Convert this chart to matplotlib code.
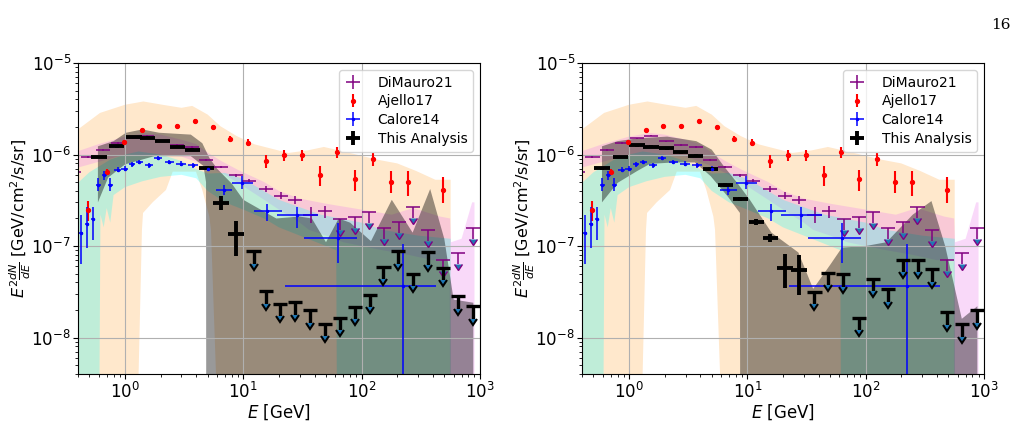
import numpy as np
import matplotlib
matplotlib.use("Agg")
import matplotlib.pyplot as plt

# ---------------- values ----------------
# DiMauro21 (detections, then upper limits)
dm_E = [0.37, 0.49, 0.655, 0.875, 1.16, 1.54, 2.07, 2.75, 3.66, 4.87, 6.48, 8.7,
        11.2, 15.5, 20.8, 27.5, 37.0, 49.3]
dm_F = [6.4e-7, 9.4e-7, 1.13e-6, 1.34e-6, 1.50e-6, 1.61e-6, 1.39e-6, 1.26e-6, 1.20e-6,
        8.8e-7, 7.3e-7, 5.9e-7, 5.2e-7, 4.2e-7, 3.56e-7, 3.17e-7, 2.2e-7, 2.44e-7]
dm_lo = [6.25e-7, 9.2e-7, 1.10e-6, 1.31e-6, 1.47e-6, 1.58e-6, 1.36e-6, 1.23e-6, 1.17e-6,
         8.6e-7, 7.1e-7, 5.7e-7, 4.95e-7, 3.9e-7, 3.3e-7, 2.85e-7, 1.79e-7, 2.04e-7]
dm_hi = [6.55e-7, 9.6e-7, 1.16e-6, 1.37e-6, 1.53e-6, 1.64e-6, 1.42e-6, 1.29e-6, 1.23e-6,
         9.0e-7, 7.5e-7, 6.1e-7, 5.45e-7, 4.55e-7, 3.85e-7, 3.5e-7, 2.7e-7, 2.77e-7]
dm_ul_E = [65.6, 88.0, 115.6, 155, 208, 274, 364, 488, 653, 870]
dm_ul = [1.98e-7, 2.08e-7, 2.34e-7, 1.57e-7, 1.84e-7, 2.65e-7, 1.48e-7, 7.1e-8, 8.3e-8, 1.58e-7]

# Ajello17
aj_E = [0.49, 0.70, 0.975, 1.39, 1.95, 2.77, 3.88, 5.5, 7.77, 11.0, 15.6, 22.1, 31.1,
        44.5, 61.5, 88, 124, 176, 248, 490]
aj_F = [2.5e-7, 6.4e-7, 1.38e-6, 1.84e-6, 2.04e-6, 2.07e-6, 2.31e-6, 2.0e-6, 1.48e-6,
        1.34e-6, 8.6e-7, 9.8e-7, 9.8e-7, 6.0e-7, 1.06e-6, 5.4e-7, 9.0e-7, 5.07e-7, 5.07e-7, 4.1e-7]
aj_lo = [1.9e-7, 5.9e-7, 1.32e-6, 1.76e-6, 1.95e-6, 1.98e-6, 2.2e-6, 1.9e-6, 1.36e-6,
         1.23e-6, 7.15e-7, 8.45e-7, 8.6e-7, 4.58e-7, 9.2e-7, 3.97e-7, 7.58e-7, 3.81e-7, 3.5e-7, 2.96e-7]
aj_hi = [3.1e-7, 6.9e-7, 1.44e-6, 1.92e-6, 2.13e-6, 2.16e-6, 2.42e-6, 2.1e-6, 1.6e-6,
         1.46e-6, 1.0e-6, 1.13e-6, 1.13e-6, 7.45e-7, 1.21e-6, 6.86e-7, 1.04e-6, 6.57e-7, 6.68e-7, 5.7e-7]

# Calore14
cal_E = [0.425, 0.477, 0.533, 0.595, 0.668, 0.751, 0.868, 0.99, 1.15, 1.32, 1.59, 1.89,
         2.37, 2.97, 3.73, 5.0, 6.9, 9.8, 15.8, 28.6, 62.8, 222]
cal_F = [1.39e-7, 1.76e-7, 1.98e-7, 4.7e-7, 5.9e-7, 4.7e-7, 6.86e-7, 6.97e-7, 7.8e-7,
         8.3e-7, 7.6e-7, 9.2e-7, 8.3e-7, 7.9e-7, 7.6e-7, 7.0e-7, 4.1e-7, 4.9e-7, 2.4e-7,
         2.17e-7, 1.23e-7, 3.64e-8]
cal_lo = [6.3e-8, 9.6e-8, 1.15e-7, 4.0e-7, 5.3e-7, 4.0e-7, 6.45e-7, 6.55e-7, 7.35e-7,
          7.8e-7, 7.15e-7, 8.65e-7, 7.8e-7, 7.45e-7, 7.15e-7, 6.6e-7, 3.65e-7, 4.15e-7,
          1.87e-7, 1.58e-7, 6.5e-8, 1e-12]
cal_hi = [2.2e-7, 2.7e-7, 2.7e-7, 5.5e-7, 6.6e-7, 5.5e-7, 7.3e-7, 7.4e-7, 8.3e-7,
          8.8e-7, 8.05e-7, 9.75e-7, 8.8e-7, 8.4e-7, 8.05e-7, 7.4e-7, 4.6e-7, 5.8e-7,
          2.9e-7, 2.68e-7, 1.8e-7, 1.06e-7]
cal_xlo = [0.411, 0.462, 0.516, 0.567, 0.637, 0.716, 0.813, 0.93, 1.08, 1.24, 1.48, 1.75,
           2.18, 2.70, 3.40, 4.55, 5.9, 8.0, 12.2, 19.1, 32.8, 22.5]
cal_xhi = [0.439, 0.492, 0.550, 0.624, 0.700, 0.787, 0.927, 1.055, 1.225, 1.41, 1.71, 2.04,
           2.58, 3.27, 4.10, 5.48, 8.1, 12.0, 21.1, 43.1, 91.9, 425]

# This Analysis, left panel
tal_E = [0.603, 0.85, 1.19, 1.55, 2.07, 2.78, 3.70, 4.90, 6.5, 8.67]
tal_F = [9.4e-7, 1.23e-6, 1.55e-6, 1.53e-6, 1.40e-6, 1.21e-6, 1.13e-6, 7.1e-7, 2.96e-7, 1.34e-7]
tal_lo = [9.1e-7, 1.19e-6, 1.50e-6, 1.48e-6, 1.36e-6, 1.17e-6, 1.09e-6, 6.8e-7, 2.5e-7, 7.8e-8]
tal_hi = [9.7e-7, 1.27e-6, 1.60e-6, 1.58e-6, 1.44e-6, 1.25e-6, 1.17e-6, 7.4e-7, 3.5e-7, 1.87e-7]
tal_ul_E = [12.2, 15.5, 20.5, 27.4, 36.6, 49, 65.6, 88, 118, 153, 204, 274, 366, 490, 656, 876]
tal_ul = [8.8e-8, 3.2e-8, 2.35e-8, 2.44e-8, 1.99e-8, 1.42e-8, 1.64e-8, 2.16e-8, 2.95e-8,
          5.9e-8, 8.8e-8, 5.0e-8, 8.6e-8, 5.8e-8, 2.83e-8, 2.2e-8]

# This Analysis, right panel
tar_E = [0.59, 0.845, 1.17, 1.53, 2.08, 2.73, 3.66, 4.87, 6.5, 8.7, 11.9, 15.6, 20.8, 27.4]
tar_F = [7.1e-7, 9.4e-7, 1.26e-6, 1.22e-6, 1.17e-6, 1.06e-6, 9.75e-7, 6.97e-7, 4.66e-7,
         3.27e-7, 1.82e-7, 1.23e-7, 5.8e-8, 5.45e-8]
tar_lo = [6.85e-7, 9.1e-7, 1.22e-6, 1.18e-6, 1.13e-6, 1.02e-6, 9.4e-7, 6.7e-7, 4.45e-7,
          3.1e-7, 1.68e-7, 1.10e-7, 3.5e-8, 2.9e-8]
tar_hi = [7.35e-7, 9.7e-7, 1.30e-6, 1.26e-6, 1.21e-6, 1.10e-6, 1.01e-6, 7.25e-7, 4.9e-7,
          3.45e-7, 1.97e-7, 1.36e-7, 8.1e-8, 7.9e-8]
tar_ul_E = [36.9, 48.4, 64.4, 87.5, 116, 155, 208, 275, 364, 488, 653, 875]
tar_ul = [3.16e-8, 5.1e-8, 4.9e-8, 1.64e-8, 4.4e-8, 3.35e-8, 7.1e-8, 7.1e-8, 5.6e-8,
          1.89e-8, 1.39e-8, 1.99e-8]

# bands: (upper edge) and (lower edge), each with its own energies
ajb_hi_E = [0.4, 0.615, 1.0, 1.43, 2.07, 3.0, 3.7, 5.0, 6.4, 8.8, 12.5, 24, 35, 48, 75,
            135, 200, 290, 420, 566]
ajb_hi = [1.88e-6, 2.85e-6, 3.5e-6, 3.8e-6, 3.5e-6, 3.24e-6, 3.4e-6, 2.73e-6, 2.04e-6,
          1.59e-6, 1.29e-6, 1.04e-6, 1.11e-6, 1.21e-6, 1.06e-6, 8.8e-7, 8.0e-7, 6.6e-7,
          5.3e-7, 5.3e-7]
ajb_lo_E = [0.4, 1.27, 1.39, 1.42, 1.71, 2.22, 2.53, 3.98, 4.5, 5.16, 5.33, 6.1, 566]
ajb_lo = [1e-9, 1e-9, 1.5e-7, 2.3e-7, 3.0e-7, 4.1e-7, 6.5e-7, 6.5e-7, 4.1e-7, 2.1e-7,
          1.5e-7, 1e-9, 1e-9]

calb_hi_E = [0.4, 0.5, 0.75, 1.0, 1.3, 2.0, 3.0, 3.7, 5.0, 7.0, 10, 20, 45, 100, 150, 300, 566]
calb_hi = [4.9e-7, 6.4e-7, 8.8e-7, 1.0e-6, 1.08e-6, 1.0e-6, 8.5e-7, 7.2e-7, 6.2e-7, 6.3e-7,
           5.4e-7, 3.2e-7, 2.2e-7, 1.8e-7, 1.5e-7, 1.3e-7, 1.2e-7]
calb_lo_E = [0.4, 0.605, 0.62, 0.66, 0.7, 0.75, 0.8, 1.0, 1.4, 2.0, 3.0, 4.0, 5.0, 7.0,
             10, 15, 20, 30, 50, 61, 62, 566]
calb_lo = [1e-9, 1e-9, 2.2e-7, 1.6e-7, 2.6e-7, 1.8e-7, 3.6e-7, 4.4e-7, 5.1e-7, 5.7e-7,
           6.0e-7, 5.5e-7, 4.0e-7, 3.0e-7, 2.5e-7, 2.0e-7, 1.6e-7, 1.3e-7, 1.0e-7, 9e-8,
           1e-9, 1e-9]

dmb_hi_E = [0.37, 0.6, 1.0, 1.5, 2.0, 3.0, 4.0, 5.0, 6.5, 9.0, 15, 20, 30, 50, 100, 180,
            272, 460, 560, 570, 700, 860, 900]
dmb_hi = [1.05e-6, 1.3e-6, 1.57e-6, 1.72e-6, 1.65e-6, 1.45e-6, 1.3e-6, 1.05e-6, 8.5e-7,
          6.8e-7, 5.0e-7, 4.0e-7, 3.3e-7, 2.9e-7, 2.5e-7, 2.2e-7, 2.6e-7, 2.1e-7, 2.0e-7,
          1.1e-7, 1.2e-7, 3.0e-7, 3.0e-7]
dmb_lo_E = [0.37, 1.0, 3.0, 5.0, 7.0, 10, 15, 20, 30, 36, 50, 70, 100, 150, 250,
            400, 555, 560, 900]
dmb_lo = [7e-7, 1.0e-6, 9.5e-7, 7.5e-7, 6e-7, 4.5e-7, 3.2e-7, 2.5e-7, 1.8e-7, 1.5e-7,
          1.3e-7, 1.1e-7, 1e-7, 9e-8, 8e-8, 7e-8, 7e-8, 1e-9, 1e-9]

tal_b_hi_E = [0.59, 0.8, 1.02, 1.4, 1.94, 3.6, 4.5, 5.16, 6.0, 8.0, 10, 14, 19, 30, 38,
              50, 64, 80, 120, 180, 270, 380, 500, 600, 880]
tal_b_hi = [1.23e-6, 1.4e-6, 1.73e-6, 1.88e-6, 1.73e-6, 1.65e-6, 1.33e-6, 9.2e-7, 7.0e-7,
            4.8e-7, 3.2e-7, 2.5e-7, 2.0e-7, 2.1e-7, 2.0e-7, 1.1e-7, 2.0e-7, 1.8e-7,
            1.13e-7, 3.2e-7, 1.4e-7, 4.2e-7, 1.2e-7, 2.6e-8, 2.4e-8]
tal_b_lo_E = [0.59, 0.72, 1.0, 1.77, 3.6, 4.6, 4.84, 4.86, 880]
tal_b_lo = [3.0e-7, 5.6e-7, 7.8e-7, 9.6e-7, 9.6e-7, 7.5e-7, 5.0e-7, 1e-9, 1e-9]

tar_b_hi_E = [0.59, 0.8, 1.17, 2.1, 3.7, 5.0, 6.3, 8.2, 10.5, 16, 27, 36, 50, 63, 100,
              150, 250, 360, 470, 650, 880]
tar_b_hi = [1.23e-6, 1.4e-6, 1.5e-6, 1.57e-6, 1.4e-6, 1.13e-6, 7.5e-7, 4.9e-7, 3.2e-7,
            1.4e-7, 8.5e-8, 3.4e-8, 6.2e-8, 9.6e-8, 1.0e-7, 1.1e-7, 2.2e-7, 3.1e-7, 1.0e-7,
            1.6e-8, 2.2e-8]
tar_b_lo_E = [0.59, 0.8, 1.17, 1.5, 2.4, 3.6, 4.9, 6.8, 8.65, 8.7, 880]
tar_b_lo = [3.0e-7, 4.9e-7, 6.6e-7, 7.9e-7, 8.2e-7, 8.2e-7, 5.8e-7, 3.5e-7, 2.3e-7, 1e-9, 1e-9]


def band(ax, hi_E, hi, lo_E, lo, color, alpha):
    xs = list(hi_E) + list(lo_E)[::-1]
    ys = list(hi) + list(lo)[::-1]
    ax.fill(xs, ys, color=color, alpha=alpha, lw=0)


def xerr_dex(E, d):
    E = np.asarray(E)
    return [E - E * 10**(-d), E * 10**d - E]


def yerr_bounds(F, lo, hi):
    F = np.asarray(F)
    return [F - np.asarray(lo), np.asarray(hi) - F]


def panel(ax, ta_E, ta_F, ta_lo, ta_hi, ta_ul_E, ta_ul, b_hi_E, b_hi, b_lo_E, b_lo):
    band(ax, ajb_hi_E, ajb_hi, ajb_lo_E, ajb_lo, "darkorange", 0.2)
    band(ax, dmb_hi_E, dmb_hi, dmb_lo_E, dmb_lo, "violet", 0.3)
    band(ax, calb_hi_E, calb_hi, calb_lo_E, calb_lo, "cyan", 0.25)
    band(ax, b_hi_E, b_hi, b_lo_E, b_lo, "black", 0.4)

    # DiMauro21
    ax.errorbar(dm_E, dm_F, xerr=xerr_dex(dm_E, 0.06), yerr=yerr_bounds(dm_F, dm_lo, dm_hi),
                fmt="none", ecolor="purple", elinewidth=1.1, label="DiMauro21")
    ax.errorbar(dm_ul_E, dm_ul, xerr=xerr_dex(dm_ul_E, 0.06), yerr=0.24 * np.array(dm_ul),
                uplims=True, fmt="none", ecolor="purple", elinewidth=1.1, markersize=3.5)
    # Ajello17
    ax.errorbar(aj_E, aj_F, yerr=yerr_bounds(aj_F, aj_lo, aj_hi), fmt="o", color="red",
                ms=2.8, elinewidth=1.5, label="Ajello17")
    # Calore14
    cal_xerr = [np.array(cal_E) - np.array(cal_xlo), np.array(cal_xhi) - np.array(cal_E)]
    ax.errorbar(cal_E, cal_F, xerr=cal_xerr, yerr=yerr_bounds(cal_F, cal_lo, cal_hi),
                fmt=".", color="blue", ms=3, elinewidth=1.1, label="Calore14")
    # This Analysis
    ax.errorbar(ta_E, ta_F, xerr=xerr_dex(ta_E, 0.065), yerr=yerr_bounds(ta_F, ta_lo, ta_hi),
                fmt="none", ecolor="black", elinewidth=2.8, label="This Analysis")
    ax.errorbar(ta_ul_E, ta_ul, xerr=xerr_dex(ta_ul_E, 0.06), yerr=0.27 * np.array(ta_ul),
                uplims=True, fmt="none", ecolor="black", elinewidth=2.4, markersize=4.5,
                markeredgewidth=1.5)

    ax.set_xscale("log")
    ax.set_yscale("log")
    ax.set_xlim(0.4, 1000)
    ax.set_ylim(4e-9, 1e-5)
    ax.grid(True, which="major")
    ax.tick_params(which="major", labelsize=12)
    ax.tick_params(axis="y", pad=1.5)
    ax.tick_params(axis="x", pad=2.5)
    ax.set_xlabel(r"$E$ [GeV]", fontsize=12, labelpad=0)
    ax.set_ylabel(r"$E^2\frac{dN}{dE}$ [GeV/cm$^2$/s/sr]", fontsize=11.5, labelpad=-1)
    ax.legend(loc="upper right", fontsize=10, handlelength=1.3, handletextpad=1.1,
              labelspacing=0.35)


fig = plt.figure(figsize=(10.15, 4.23), dpi=100)
ax1 = fig.add_axes([0.0768, 0.116, 0.396, 0.735])
ax2 = fig.add_axes([0.5734, 0.116, 0.396, 0.735])

panel(ax1, tal_E, tal_F, tal_lo, tal_hi, tal_ul_E, tal_ul,
      tal_b_hi_E, tal_b_hi, tal_b_lo_E, tal_b_lo)
panel(ax2, tar_E, tar_F, tar_lo, tar_hi, tar_ul_E, tar_ul,
      tar_b_hi_E, tar_b_hi, tar_b_lo_E, tar_b_lo)

fig.text(0.986, 0.941, "16", ha="center", va="center", family="DejaVu Serif", fontsize=11)

fig.savefig("out.png", dpi=100)
